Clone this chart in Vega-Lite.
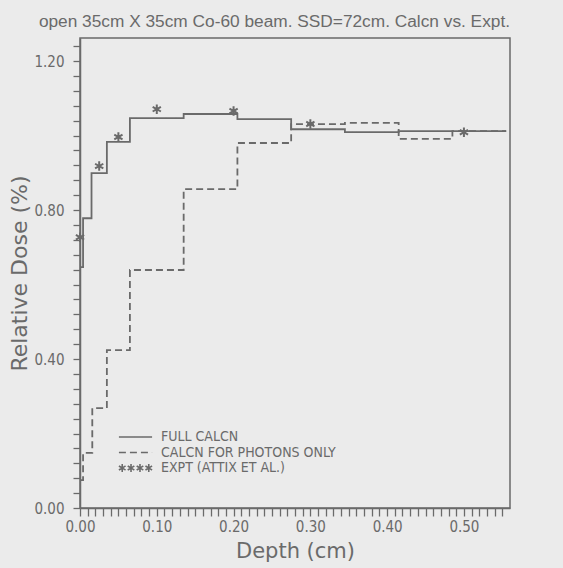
{
  "$schema": "https://vega.github.io/schema/vega-lite/v6.json",
  "width": 430,
  "height": 470,
  "autosize": {"type": "none"},
  "padding": {"left": 80, "top": 38, "right": 53, "bottom": 60},
  "background": "#ebebeb",
  "title": {
    "text": "open 35cm X 35cm Co-60 beam. SSD=72cm. Calcn vs. Expt.",
    "anchor": "end",
    "font": "Liberation Sans",
    "fontSize": 17.3,
    "fontWeight": "normal",
    "color": "#6a6a6a",
    "offset": 8
  },
  "data": {
    "values": [
      {"series": "FULL CALCN", "depth": 0.0, "dose": 0.647},
      {"series": "FULL CALCN", "depth": 0.004, "dose": 0.778},
      {"series": "FULL CALCN", "depth": 0.015, "dose": 0.899},
      {"series": "FULL CALCN", "depth": 0.035, "dose": 0.983},
      {"series": "FULL CALCN", "depth": 0.065, "dose": 1.047},
      {"series": "FULL CALCN", "depth": 0.135, "dose": 1.058},
      {"series": "FULL CALCN", "depth": 0.205, "dose": 1.044},
      {"series": "FULL CALCN", "depth": 0.275, "dose": 1.017},
      {"series": "FULL CALCN", "depth": 0.345, "dose": 1.009},
      {"series": "FULL CALCN", "depth": 0.415, "dose": 1.012},
      {"series": "FULL CALCN", "depth": 0.555, "dose": 1.012},
      {"series": "CALCN FOR PHOTONS ONLY", "depth": 0.0, "dose": 0.075},
      {"series": "CALCN FOR PHOTONS ONLY", "depth": 0.004, "dose": 0.148},
      {"series": "CALCN FOR PHOTONS ONLY", "depth": 0.016, "dose": 0.268},
      {"series": "CALCN FOR PHOTONS ONLY", "depth": 0.035, "dose": 0.424},
      {"series": "CALCN FOR PHOTONS ONLY", "depth": 0.065, "dose": 0.639},
      {"series": "CALCN FOR PHOTONS ONLY", "depth": 0.135, "dose": 0.856},
      {"series": "CALCN FOR PHOTONS ONLY", "depth": 0.205, "dose": 0.98},
      {"series": "CALCN FOR PHOTONS ONLY", "depth": 0.275, "dose": 1.031},
      {"series": "CALCN FOR PHOTONS ONLY", "depth": 0.345, "dose": 1.034},
      {"series": "CALCN FOR PHOTONS ONLY", "depth": 0.415, "dose": 0.991},
      {"series": "CALCN FOR PHOTONS ONLY", "depth": 0.485, "dose": 1.012},
      {"series": "CALCN FOR PHOTONS ONLY", "depth": 0.555, "dose": 1.012},
      {"series": "EXPT (ATTIX ET AL.)", "depth": 0.0, "dose": 0.727},
      {"series": "EXPT (ATTIX ET AL.)", "depth": 0.025, "dose": 0.918},
      {"series": "EXPT (ATTIX ET AL.)", "depth": 0.05, "dose": 0.996},
      {"series": "EXPT (ATTIX ET AL.)", "depth": 0.1, "dose": 1.071},
      {"series": "EXPT (ATTIX ET AL.)", "depth": 0.2, "dose": 1.066},
      {"series": "EXPT (ATTIX ET AL.)", "depth": 0.3, "dose": 1.031},
      {"series": "EXPT (ATTIX ET AL.)", "depth": 0.5, "dose": 1.009}
    ]
  },
  "encoding": {
    "x": {
      "field": "depth",
      "type": "quantitative",
      "scale": {"domain": [0, 0.56], "nice": false, "zero": false},
      "axis": {
        "title": "Depth (cm)",
        "values": [0, 0.01, 0.02, 0.03, 0.04, 0.05, 0.06, 0.07, 0.08, 0.09, 0.1, 0.11, 0.12, 0.13, 0.14, 0.15, 0.16, 0.17, 0.18, 0.19, 0.2, 0.21, 0.22, 0.23, 0.24, 0.25, 0.26, 0.27, 0.28, 0.29, 0.3, 0.31, 0.32, 0.33, 0.34, 0.35, 0.36, 0.37, 0.38, 0.39, 0.4, 0.41, 0.42, 0.43, 0.44, 0.45, 0.46, 0.47, 0.48, 0.49, 0.5, 0.51, 0.52, 0.53, 0.54, 0.55],
        "labelExpr": "abs(datum.value*10 - round(datum.value*10)) < 0.001 ? format(datum.value, '.2f') : ''",
        "labelOverlap": false,
        "labelFlush": false,
        "tickSize": 8,
        "labelPadding": 3,
        "titlePadding": 6,
        "titleFont": "DejaVu Sans",
        "titleFontSize": 21,
        "encode": {
          "ticks": {
            "update": {
              "y2": {"signal": "abs(datum.value*10 - round(datum.value*10)) < 0.001 ? 8 : 5"}
            }
          }
        }
      }
    },
    "y": {
      "field": "dose",
      "type": "quantitative",
      "scale": {"domain": [0, 1.262], "nice": false},
      "axis": {
        "title": "Relative Dose (%)",
        "values": [0, 0.04, 0.08, 0.12, 0.16, 0.2, 0.24, 0.28, 0.32, 0.36, 0.4, 0.44, 0.48, 0.52, 0.56, 0.6, 0.64, 0.68, 0.72, 0.76, 0.8, 0.84, 0.88, 0.92, 0.96, 1.0, 1.04, 1.08, 1.12, 1.16, 1.2, 1.24],
        "labelExpr": "abs(datum.value*2.5 - round(datum.value*2.5)) < 0.001 ? format(datum.value, '.2f') : ''",
        "labelOverlap": false,
        "labelFlush": false,
        "tickSize": 7,
        "labelPadding": 9,
        "titlePadding": 2,
        "titleFont": "DejaVu Sans",
        "titleFontSize": 22,
        "encode": {
          "ticks": {
            "update": {
              "x2": {"signal": "abs(datum.value*2.5 - round(datum.value*2.5)) < 0.001 ? -7 : -4"}
            }
          }
        }
      }
    }
  },
  "layer": [
    {
      "transform": [{"filter": "datum.series !== 'EXPT (ATTIX ET AL.)'"}],
      "mark": {"type": "line", "interpolate": "step-after", "color": "#6a6a6a", "strokeWidth": 1.8},
      "encoding": {
        "strokeDash": {
          "field": "series",
          "type": "nominal",
          "scale": {
            "domain": ["FULL CALCN", "CALCN FOR PHOTONS ONLY", "EXPT (ATTIX ET AL.)"],
            "range": [[1, 0], [7, 4], [1, 0]]
          },
          "legend": {
            "title": null,
            "orient": "none",
            "legendX": 38,
            "legendY": 392,
            "padding": 0,
            "symbolType": "stroke",
            "symbolSize": 1100,
            "symbolStrokeWidth": 1.6,
            "symbolStrokeColor": "#6a6a6a",
            "clipHeight": 14,
            "rowPadding": 1.5,
            "labelOffset": 8,
            "labelLimit": 400,
            "labelFont": "Liberation Sans Narrow, DejaVu Sans Condensed, Liberation Sans",
            "labelFontSize": 14,
            "labelColor": "#6a6a6a",
            "encode": {
              "symbols": {
                "update": {
                  "shape": {"signal": "datum.value === 'EXPT (ATTIX ET AL.)' ? 'M-0.8,-0.24L-0.8,0.24M-1,-0.12L-0.6,0.12M-1,0.12L-0.6,-0.12M-0.27,-0.24L-0.27,0.24M-0.47,-0.12L-0.07,0.12M-0.47,0.12L-0.07,-0.12M0.27,-0.24L0.27,0.24M0.07,-0.12L0.47,0.12M0.07,0.12L0.47,-0.12M0.8,-0.24L0.8,0.24M0.6,-0.12L1,0.12M0.6,0.12L1,-0.12' : 'stroke'"}
                }
              }
            }
          }
        }
      }
    },
    {
      "transform": [{"filter": "datum.series === 'EXPT (ATTIX ET AL.)'"}],
      "mark": {
        "type": "point",
        "shape": "M0,-1L0,1M-0.87,-0.5L0.87,0.5M-0.87,0.5L0.87,-0.5",
        "filled": false,
        "stroke": "#6a6a6a",
        "strokeWidth": 2,
        "size": 90,
        "opacity": 1
      }
    }
  ],
  "config": {
    "view": {"stroke": "#6a6a6a", "strokeWidth": 1.5},
    "axis": {
      "grid": false,
      "domainColor": "#6a6a6a",
      "domainWidth": 1.5,
      "tickColor": "#6a6a6a",
      "tickWidth": 1.3,
      "labelFont": "Liberation Sans Narrow, DejaVu Sans Condensed, Liberation Sans",
      "labelFontSize": 15,
      "labelColor": "#6a6a6a",
      "titleColor": "#6a6a6a",
      "titleFontWeight": "normal"
    }
  }
}
